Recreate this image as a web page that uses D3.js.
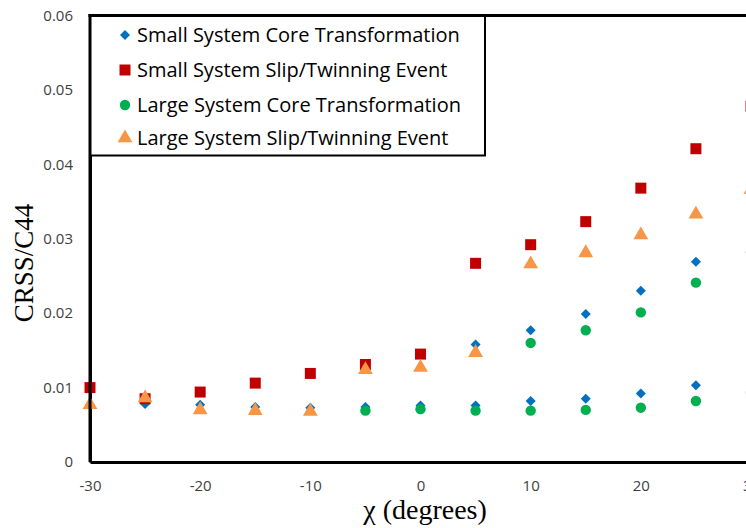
<!DOCTYPE html>
<html>
<head>
<meta charset="utf-8">
<script src="https://cdn.jsdelivr.net/npm/d3@7"></script>
<style>
  html, body { margin: 0; padding: 0; background: #fff; }
  svg { display: block; }
</style>
</head>
<body>
<svg id="chart" width="746" height="528"></svg>
<script>
// ---- data ----
const seriesNames = [
  "Small System Core Transformation",
  "Small System Slip/Twinning Event",
  "Large System Core Transformation",
  "Large System Slip/Twinning Event"
];
const xTicks = [-30, -20, -10, 0, 10, 20, 30];
const yTicks = [0, 0.01, 0.02, 0.03, 0.04, 0.05, 0.06];

// Small System Core Transformation (two branches)
const smallCoreX = [-30, -25, -20, -15, -10, -5, 0, 5, 10, 15, 20, 25, 30, 5, 10, 15, 20, 25, 30];
const smallCoreY = [0.0077, 0.0078, 0.0077, 0.0074, 0.0073, 0.0074, 0.0076, 0.0076, 0.0082, 0.0085, 0.0092, 0.0103, 0.0130,
                    0.0158, 0.0177, 0.0199, 0.0230, 0.0269, 0.0338];
// Small System Slip/Twinning Event
const smallSlipX = [-30, -25, -20, -15, -10, -5, 0, 5, 10, 15, 20, 25, 30];
const smallSlipY = [0.0100, 0.0085, 0.0094, 0.0106, 0.0119, 0.0131, 0.0145, 0.0267, 0.0292, 0.0323, 0.0368, 0.0421, 0.0478];
// Large System Core Transformation (two branches)
const largeCoreX = [-5, 0, 5, 10, 15, 20, 25, 30, 10, 15, 20, 25, 30];
const largeCoreY = [0.0069, 0.0071, 0.0069, 0.0069, 0.0070, 0.0073, 0.0082, 0.0093,
                    0.0160, 0.0177, 0.0201, 0.0241, 0.0282];
// Large System Slip/Twinning Event
const largeSlipX = [-30, -25, -20, -15, -10, -5, 0, 5, 10, 15, 20, 25, 30];
const largeSlipY = [0.0077, 0.0086, 0.0070, 0.0069, 0.0068, 0.0124, 0.0127, 0.0147, 0.0266, 0.0281, 0.0305, 0.0333, 0.0366];

const colors = ["#0070C0", "#C00000", "#00B050", "#F79646"];
const shapes = ["diamond", "square", "circle", "triangle"];

// ---- layout ----
const svg = d3.select("#chart");
const x = d3.scaleLinear().domain([-30, 30]).range([90, 751]);
const y = d3.scaleLinear().domain([0, 0.06]).range([462, 15.5]);

const symbolFor = {
  diamond: d3.symbol().type(d3.symbolDiamond2).size(64),
  square: d3.symbol().type(d3.symbolSquare).size(121),
  circle: d3.symbol().type(d3.symbolCircle).size(85),
  triangle: d3.symbol().type(d3.symbolTriangle).size(95)
};

// axes
const yAxis = d3.axisLeft(y).tickValues(yTicks).tickSize(0).tickPadding(17)
  .tickFormat(d => d === 0 ? "0" : d.toFixed(2));
const xAxis = d3.axisBottom(x).tickValues(xTicks).tickSize(0).tickPadding(18)
  .tickFormat(d => String(d));

const gy = svg.append("g").attr("transform", "translate(90,0)").call(yAxis);
const gx = svg.append("g").attr("transform", "translate(0,462)").call(xAxis);
[gx, gy].forEach(g => {
  g.select(".domain").attr("stroke", "#000").attr("stroke-width", 3);
  g.selectAll("text").attr("fill", "#404040")
    .style("font-family", "'Open Sans', sans-serif").style("font-size", "15px");
});

// axis titles
svg.append("text")
  .attr("transform", `translate(33,${263}) rotate(-90)`)
  .attr("text-anchor", "middle")
  .style("font-family", "'Liberation Serif', 'Times New Roman', serif")
  .style("font-size", "27px").attr("fill", "#000")
  .text("CRSS/C44");
svg.append("text")
  .attr("x", 425).attr("y", 519)
  .attr("text-anchor", "middle")
  .style("font-family", "'Liberation Serif', 'Times New Roman', serif")
  .style("font-size", "28px").attr("fill", "#000")
  .text("\u03C7 (degrees)");

// points
const seriesData = [
  d3.zip(smallCoreX, smallCoreY),
  d3.zip(smallSlipX, smallSlipY),
  d3.zip(largeCoreX, largeCoreY),
  d3.zip(largeSlipX, largeSlipY)
];
seriesData.forEach((pts, i) => {
  svg.append("g").selectAll("path").data(pts).join("path")
    .attr("d", symbolFor[shapes[i]])
    .attr("transform", d => `translate(${x(d[0])},${y(d[1])})`)
    .attr("fill", colors[i]);
});

// legend
const lg = svg.append("g");
lg.append("rect")
  .attr("x", 90).attr("y", y(0.06))
  .attr("width", 395).attr("height", 140)
  .attr("fill", "#fff").attr("stroke", "#000").attr("stroke-width", 2);
// thick frame lines (left axis and top border)
svg.append("line").attr("x1", 90).attr("x2", 90).attr("y1", y(0.06) - 1.5).attr("y2", 462)
  .attr("stroke", "#000").attr("stroke-width", 3);
svg.append("line").attr("x1", 88.5).attr("x2", 746).attr("y1", y(0.06)).attr("y2", y(0.06))
  .attr("stroke", "#000").attr("stroke-width", 3);
const rowY = [35, 70, 105, 138];
seriesNames.forEach((name, i) => {
  lg.append("path")
    .attr("d", symbolFor[shapes[i]])
    .attr("transform", `translate(125,${rowY[i]})`)
    .attr("fill", colors[i]);
  lg.append("text")
    .attr("x", 137).attr("y", rowY[i]).attr("dy", "0.35em")
    .style("font-family", "'Open Sans', sans-serif").style("font-size", "20px")
    .attr("fill", "#000")
    .text(name);
});
</script>
</body>
</html>
